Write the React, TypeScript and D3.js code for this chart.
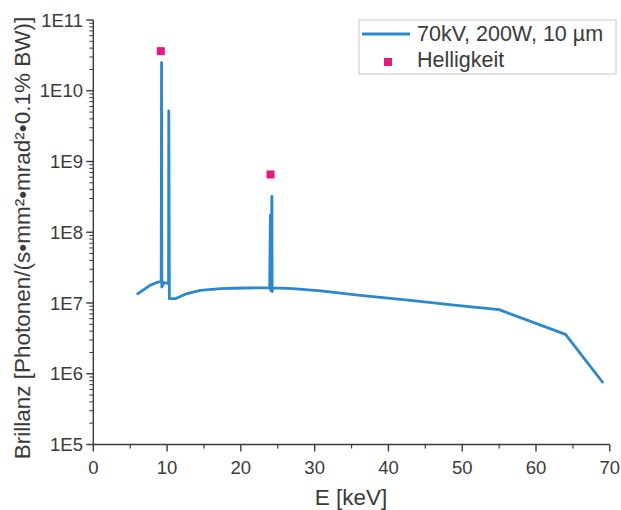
import React from "react";
import * as d3 from "d3";

const energy = [5.9, 7.7, 8.6, 9.2, 9.25, 9.28, 9.6, 9.96, 10.2, 10.23, 10.31, 11.1, 12.7, 14.5, 17.2, 20.4, 23.9, 24.0, 24.05, 24.2, 24.24, 24.3, 27.1, 30.8, 36.2, 43.0, 48.9, 55.0, 64.0, 69.1];
const brilliance = [1.32e7, 1.78e7, 1.95e7, 2.0e7, 2.5e10, 1.68e7, 1.95e7, 1.9e7, 1.9e7, 5.2e9, 1.15e7, 1.15e7, 1.36e7, 1.51e7, 1.6e7, 1.63e7, 1.64e7, 1.74e8, 1.5e7, 3.2e8, 1.45e7, 1.64e7, 1.6e7, 1.48e7, 1.28e7, 1.09e7, 9.3e6, 8.05e6, 3.6e6, 7.4e5];

const markerEnergy = [9.15, 24.02];
const markerValue = [3.63e10, 6.56e8];

const xTicks = [0, 10, 20, 30, 40, 50, 60, 70];
const xMinorTicks = [5, 15, 25, 35, 45, 55, 65];
const yExponents = [5, 6, 7, 8, 9, 10, 11];

const seriesName = "70kV, 200W, 10 µm";
const markerName = "Helligkeit";
const xTitle = "E [keV]";
const yTitle = "Brillanz [Photonen/(s•mm²•mrad²•0.1% BW)]";

const W = 621;
const H = 510;
const LINE = "#2b88cc";
const PINK = "#e6197f";
const AXIS = "#3a3a3a";
const TEXT = "#3a3a3a";
const FONT = "'Liberation Sans', Arial, sans-serif";

export default function App() {
  const x = d3.scaleLinear().domain([0, 70]).range([93.3, 609.8]);
  const y = d3.scaleLog().domain([1e5, 1e11]).range([444.5, 20]);
  const x0 = x(0);
  const y0 = y(1e5);

  const pts = energy.map((e, i) => [e, brilliance[i]] as [number, number]);
  const line = d3
    .line<[number, number]>()
    .x((d) => x(d[0]))
    .y((d) => y(d[1]));

  const minorY: number[] = [];
  yExponents.slice(0, -1).forEach((ex) => {
    for (let k = 2; k <= 9; k++) minorY.push(k * Math.pow(10, ex));
  });

  return (
    <svg
      width={W}
      height={H}
      style={{ position: "absolute", left: 0, top: 0, background: "#fff" }}
      fontFamily={FONT}
    >
      <rect x={0} y={0} width={W} height={H} fill="#fff" />
      {/* axes */}
      <line x1={x0} x2={x(70)} y1={y0} y2={y0} stroke={AXIS} strokeWidth={1.4} />
      <line x1={x0} x2={x0} y1={y(1e11)} y2={y0} stroke={AXIS} strokeWidth={1.4} />
      {xTicks.map((t) => (
        <g key={"xt" + t}>
          <line x1={x(t)} x2={x(t)} y1={y0} y2={y0 + 7} stroke={AXIS} strokeWidth={1.4} />
          <text x={x(t)} y={474} textAnchor="middle" fontSize={18.5} fill={TEXT}>
            {t}
          </text>
        </g>
      ))}
      {xMinorTicks.map((t) => (
        <line key={"xm" + t} x1={x(t)} x2={x(t)} y1={y0} y2={y0 + 4} stroke={AXIS} strokeWidth={1.2} />
      ))}
      {yExponents.map((ex) => {
        const v = Math.pow(10, ex);
        return (
          <g key={"yt" + ex}>
            <line x1={x0 - 7} x2={x0} y1={y(v)} y2={y(v)} stroke={AXIS} strokeWidth={1.4} />
            <text x={83} y={y(v) + 6.5} textAnchor="end" fontSize={18.5} fill={TEXT}>
              {"1E" + ex}
            </text>
          </g>
        );
      })}
      {minorY.map((v, i) => (
        <line key={"ym" + i} x1={x0 - 4} x2={x0} y1={y(v)} y2={y(v)} stroke={AXIS} strokeWidth={1} />
      ))}
      {/* titles */}
      <text x={351} y={505} textAnchor="middle" fontSize={22.5} fill={TEXT}>
        {xTitle}
      </text>
      <text
        transform={`translate(30,238) rotate(-90)`}
        textAnchor="middle"
        fontSize={22.5}
        fill={TEXT}
      >
        {yTitle}
      </text>
      {/* data */}
      <path d={line(pts) || ""} fill="none" stroke={LINE} strokeWidth={2.8} strokeLinejoin="round" />
      {markerEnergy.map((e, i) => (
        <rect key={"mk" + i} x={x(e) - 4} y={y(markerValue[i]) - 4} width={8} height={8} fill={PINK} />
      ))}
      {/* legend */}
      <rect x={359} y={20} width={257} height={54} fill="#fff" stroke="#c8c8c8" strokeWidth={1} />
      <line x1={362} x2={410} y1={34} y2={34} stroke={LINE} strokeWidth={2.8} />
      <text x={417} y={41} fontSize={21.5} fill={TEXT}>
        {seriesName}
      </text>
      <rect x={384} y={58} width={8} height={8} fill={PINK} />
      <text x={417} y={67} fontSize={21.5} fill={TEXT}>
        {markerName}
      </text>
    </svg>
  );
}
